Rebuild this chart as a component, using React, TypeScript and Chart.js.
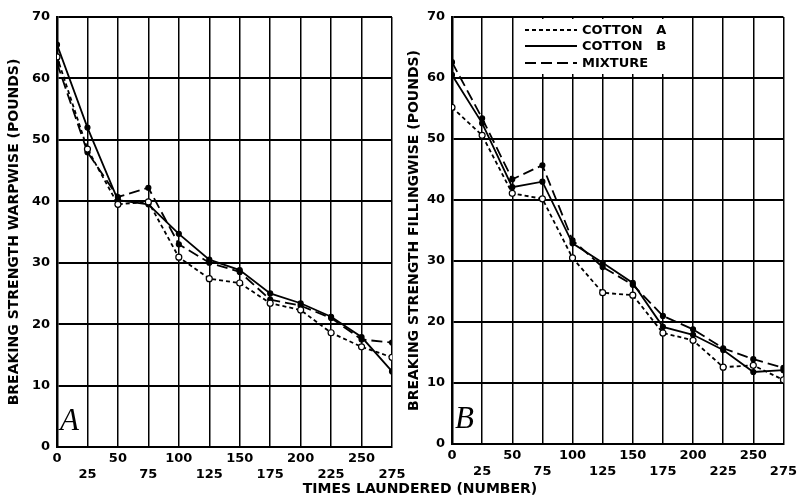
import React, { useEffect, useRef } from 'react';
import { Chart, registerables } from 'chart.js';
Chart.register(...registerables);

// ---- data ----
const launderings = [0, 25, 50, 75, 100, 125, 150, 175, 200, 225, 250, 275];
const yTickValues = [0, 10, 20, 30, 40, 50, 60, 70];
const seriesNames = ['COTTON   A', 'COTTON   B', 'MIXTURE'];

// Panel A: warpwise
const warpCottonA = [63.5, 48.5, 39.5, 39.9, 30.9, 27.4, 26.7, 23.4, 22.3, 18.6, 16.3, 14.6];
const warpCottonB = [65.5, 52.0, 40.2, 39.5, 34.7, 30.5, 28.8, 25.0, 23.4, 21.2, 17.9, 12.3];
const warpMixture = [62.5, 48.0, 40.7, 42.2, 33.0, 30.0, 28.5, 24.0, 23.0, 21.0, 17.5, 17.0];

// Panel B: fillingwise
const fillCottonA = [55.2, 50.6, 41.1, 40.2, 30.5, 24.8, 24.4, 18.2, 17.0, 12.6, 12.9, 10.5];
const fillCottonB = [60.5, 52.6, 42.1, 43.0, 32.9, 29.7, 26.4, 19.2, 17.9, 15.4, 11.8, 12.1];
const fillMixture = [62.6, 53.4, 43.4, 45.7, 33.4, 29.0, 26.1, 21.0, 18.8, 15.7, 13.9, 12.5];

const FONT = '"DejaVu Sans", sans-serif';

const seriesStyles = [
  { dash: [4, 3], fill: '#ffffff', radius: 3 },
  { dash: [] as number[], fill: '#000000', radius: 2.5 },
  { dash: [11, 5], fill: '#000000', radius: 2.5 },
];

type PanelProps = {
  left: number;
  width: number;
  plotLeft: number;
  padRight: number;
  xAxisH: number;
  yTitle: string;
  series: number[][];
  letter: string;
  letterDy: number;
  showLegend: boolean;
};

function Panel(p: PanelProps) {
  const ref = useRef<HTMLCanvasElement | null>(null);
  useEffect(() => {
    if (!ref.current) return;
    const overlay = {
      id: 'overlay',
      afterDraw(chart: any) {
        const ctx = chart.ctx;
        const { left, bottom } = chart.chartArea;
        ctx.save();
        ctx.fillStyle = '#000';
        ctx.font = 'italic 31px "Liberation Serif", serif';
        ctx.textAlign = 'left';
        ctx.textBaseline = 'alphabetic';
        ctx.fillText(p.letter, left + 3, bottom - p.letterDy);
        if (p.showLegend) {
          ctx.fillStyle = '#fff';
          ctx.fillRect(left + 66, 19, 148, 55);
          const rows = [30, 46, 63];
          rows.forEach((y, i) => {
            ctx.strokeStyle = '#000';
            ctx.lineWidth = 2.2;
            ctx.setLineDash(seriesStyles[i].dash);
            ctx.beginPath();
            ctx.moveTo(left + 73, y);
            ctx.lineTo(left + 125, y);
            ctx.stroke();
            ctx.setLineDash([]);
            ctx.fillStyle = '#000';
            ctx.font = `bold 13px ${FONT}`;
            ctx.textBaseline = 'middle';
            ctx.fillText(seriesNames[i], left + 130, y + 1);
          });
        }
        ctx.restore();
      },
    };
    const chart = new Chart(ref.current, {
      type: 'line',
      data: {
        datasets: p.series.map((vals, i) => ({
          label: seriesNames[i],
          data: launderings.map((x, j) => ({ x, y: vals[j] })),
          borderColor: '#000',
          borderWidth: 1.8,
          borderDash: seriesStyles[i].dash,
          pointRadius: seriesStyles[i].radius,
          pointBackgroundColor: seriesStyles[i].fill,
          pointBorderColor: '#000',
          pointBorderWidth: 1.2,
          tension: 0,
          fill: false,
        })),
      },
      options: {
        animation: false,
        responsive: false,
        maintainAspectRatio: false,
        layout: { padding: { top: 17, right: p.padRight, left: 0, bottom: 0 } },
        plugins: { legend: { display: false }, tooltip: { enabled: false } },
        scales: {
          x: {
            type: 'linear',
            min: 0,
            max: 275,
            afterBuildTicks: (s: any) => {
              s.ticks = launderings.map((v) => ({ value: v }));
            },
            afterFit: (s: any) => {
              s.height = p.xAxisH;
            },
            grid: { color: '#000', lineWidth: 1.5, drawTicks: false },
            border: { color: '#000', width: 2 },
            ticks: {
              autoSkip: false,
              maxRotation: 0,
              padding: 4,
              color: '#000',
              font: { family: FONT, size: 13, weight: 'bold', lineHeight: 1.2 },
              callback: (v: any, i: number) => (i % 2 === 0 ? String(v) : ['', String(v)]),
            },
          },
          y: {
            type: 'linear',
            min: 0,
            max: 70,
            afterBuildTicks: (s: any) => {
              s.ticks = yTickValues.map((v) => ({ value: v }));
            },
            afterFit: (s: any) => {
              s.width = p.plotLeft;
            },
            grid: { color: '#000', lineWidth: 2, drawTicks: false },
            border: { color: '#000', width: 2.5 },
            ticks: {
              padding: 7,
              color: '#000',
              font: { family: FONT, size: 13, weight: 'bold' },
            },
            title: {
              display: true,
              text: p.yTitle,
              color: '#000',
              padding: { top: 6, bottom: 0 },
              font: { family: FONT, size: 14, weight: 'bold' },
            },
          },
        },
      },
      plugins: [overlay],
    } as any);
    return () => chart.destroy();
  }, []);
  return (
    <canvas
      ref={ref}
      width={p.width}
      height={495}
      style={{ position: 'absolute', left: p.left, top: 0, width: p.width, height: 495 }}
    />
  );
}

export default function App() {
  return (
    <div style={{ position: 'fixed', left: 0, top: 0, width: 801, height: 495, background: '#fff', overflow: 'hidden' }}>
      <Panel
        left={0}
        width={420}
        plotLeft={57}
        padRight={28}
        xAxisH={48}
        yTitle="BREAKING STRENGTH WARPWISE (POUNDS)"
        series={[warpCottonA, warpCottonB, warpMixture]}
        letter="A"
        letterDy={17}
        showLegend={false}
      />
      <Panel
        left={400}
        width={401}
        plotLeft={52}
        padRight={13}
        xAxisH={51}
        yTitle="BREAKING STRENGTH FILLINGWISE (POUNDS)"
        series={[fillCottonA, fillCottonB, fillMixture]}
        letter="B"
        letterDy={16}
        showLegend={true}
      />
      <div
        style={{
          position: 'absolute',
          left: 290,
          top: 480,
          width: 260,
          textAlign: 'center',
          font: `bold 14px ${FONT}`,
          color: '#000',
          lineHeight: '16px',
          whiteSpace: 'nowrap',
        }}
      >
        TIMES LAUNDERED (NUMBER)
      </div>
    </div>
  );
}
